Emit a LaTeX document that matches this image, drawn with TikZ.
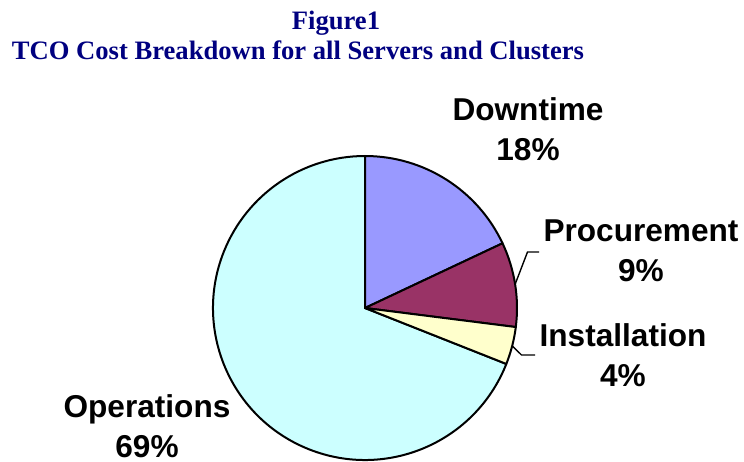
\documentclass[tikz,border=0pt]{standalone}
\usepackage{fontspec}
\setmainfont{Liberation Serif}
\setsansfont{Liberation Sans}
\usetikzlibrary{positioning}
\definecolor{titleblue}{RGB}{0,0,128}
\definecolor{downcol}{RGB}{153,153,255}
\definecolor{proccol}{RGB}{153,51,102}
\definecolor{instcol}{RGB}{255,255,204}
\definecolor{opscol}{RGB}{204,255,255}

\begin{document}
\begin{tikzpicture}[
      x=0.5pt, y=0.5pt,
      title/.style={font=\fontsize{13.3}{16}\selectfont\bfseries, text=titleblue, inner sep=0pt, anchor=base},
      label/.style={font=\sffamily\fontsize{15.8}{20}\selectfont\bfseries, align=center, inner sep=2pt},
      slice/.style={draw=black, line width=1pt, line join=round},
      leader/.style={draw=black, line width=0.7pt}
    ]
    \useasboundingbox (0,0) rectangle (744,461);
    % Title
    \node [title] (fig) at (336,431) {Figure1};
    \node [title] (head) at (298,401) {TCO Cost Breakdown for all Servers and Clusters};
    % Slices
    \coordinate (center) at (365,153);
    \path [slice, fill=opscol] (center) -- ++(-21.6:152) arc (-21.6:-270:152) -- cycle;
    \path [slice, fill=downcol] (center) -- ++(90:152) arc (90:25.2:152) -- cycle;
    \path [slice, fill=proccol] (center) -- ++(25.2:152) arc (25.2:-7.2:152) -- cycle;
    \path [slice, fill=instcol] (center) -- ++(-7.2:152) arc (-7.2:-21.6:152) -- cycle;
    % Labels
    \node [label] (downtime) at (528,332) {Downtime\\18\%};
    \node [label] (procurement) at (641,210) {Procurement\\9\%};
    \node [label] (installation) at (623,106) {Installation\\4\%};
    \node [label] (operations) at (147,35) {Operations\\69\%};
    % Leaders
    \coordinate (procedge) at ([shift={(9:152)}]center);
    \coordinate (procbend) at (527.5,209);
    \coordinate (instedge) at ([shift={(-14.4:152)}]center);
    \coordinate (instbend) at (521.5,106);
    \path [leader] (procedge) -- (procbend) -- (procbend -| procurement.west);
    \path [leader] (instedge) -- (instbend) -- (instbend -| installation.west);
  \end{tikzpicture}
\end{document}
